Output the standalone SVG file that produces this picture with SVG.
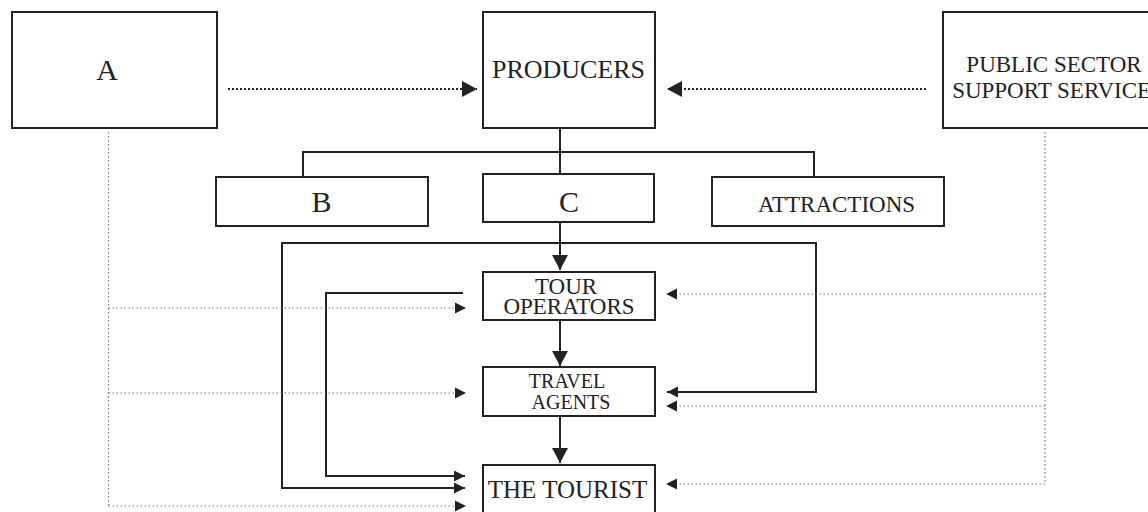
<svg xmlns="http://www.w3.org/2000/svg" width="1148" height="512" viewBox="0 0 1148 512">
<style>
.box{fill:#fff;stroke:#222;stroke-width:2}
.t{font-family:"Liberation Serif","Times New Roman",serif;fill:#222;text-anchor:middle}
.solid{fill:none;stroke:#222;stroke-width:2}
.dotd{fill:none;stroke:#222;stroke-width:2;stroke-dasharray:2 2}
.dotl{fill:none;stroke:#777;stroke-width:1.2;stroke-dasharray:1.5 2.5}
</style>
<defs>
<marker id="big" markerUnits="userSpaceOnUse" markerWidth="15" markerHeight="16" refX="15" refY="8" orient="auto" viewBox="0 0 15 16">
<path d="M0,0 L15,8 L0,16 z" fill="#222"/>
</marker>
<marker id="small" markerUnits="userSpaceOnUse" markerWidth="11" markerHeight="11" refX="11" refY="5.5" orient="auto" viewBox="0 0 11 11">
<path d="M0,0 L11,5.5 L0,11 z" fill="#222"/>
</marker>
</defs>
<g id="connectors">
<path class="dotd" d="M228,89 H477" marker-end="url(#big)"/>
<path class="dotd" d="M926,89 H667" marker-end="url(#big)"/>
<path class="solid" d="M560,128 V174"/>
<path class="solid" d="M303,177 V152 H814 V177"/>
<path class="solid" d="M560,222 V270" marker-end="url(#big)"/>
<path class="solid" d="M560,320 V366" marker-end="url(#big)"/>
<path class="solid" d="M560,416 V463" marker-end="url(#big)"/>
<path class="solid" d="M560,243 H282 V488 H465" marker-end="url(#small)"/>
<path class="solid" d="M560,243 H816 V392 H667" marker-end="url(#small)"/>
<path class="solid" d="M463,293 H326 V476 H465" marker-end="url(#small)"/>
<path class="dotl" d="M108.5,132 V506"/>
<path class="dotl" d="M108.5,308 H459"/>
<path class="dotl" d="M108.5,393 H459"/>
<path class="dotl" d="M108.5,506 H459"/>
<polygon points="455,302.5 466,308 455,313.5" fill="#222"/>
<polygon points="455,387.5 466,393 455,398.5" fill="#222"/>
<polygon points="455,500.5 466,506 455,511.5" fill="#222"/>
<path class="dotl" d="M1045,132 V484"/>
<path class="dotl" d="M1045,294 H673"/>
<path class="dotl" d="M1045,406 H673"/>
<path class="dotl" d="M1045,484 H673"/>
<polygon points="677,288.5 666,294 677,299.5" fill="#222"/>
<polygon points="677,400.5 666,406 677,411.5" fill="#222"/>
<polygon points="677,478.5 666,484 677,489.5" fill="#222"/>
</g>
<g id="node-a"><rect class="box" x="12" y="12" width="205" height="116"/><text class="t" x="107" y="80" font-size="30">A</text></g>
<g id="node-producers"><rect class="box" x="483" y="12" width="172" height="116"/><text class="t" x="568.5" y="78" font-size="26">PRODUCERS</text></g>
<g id="node-public"><rect class="box" x="943" y="12" width="230" height="116"/><text class="t" x="1054" y="72" font-size="23">PUBLIC SECTOR</text><text class="t" x="1058" y="98" font-size="23">SUPPORT SERVICES</text></g>
<g id="node-b"><rect class="box" x="216" y="177" width="212" height="49"/><text class="t" x="321.5" y="212" font-size="30">B</text></g>
<g id="node-c"><rect class="box" x="483" y="174" width="171" height="48"/><text class="t" x="569" y="212" font-size="30">C</text></g>
<g id="node-attractions"><rect class="box" x="712" y="177" width="232" height="49"/><text class="t" x="836.5" y="212" font-size="23">ATTRACTIONS</text></g>
<g id="node-tour"><rect class="box" x="483" y="272" width="172" height="48"/><text class="t" x="566" y="294" font-size="23">TOUR</text><text class="t" x="569" y="314" font-size="23">OPERATORS</text></g>
<g id="node-travel"><rect class="box" x="483" y="367" width="172" height="49"/><text class="t" x="567" y="388" font-size="20">TRAVEL</text><text class="t" x="571" y="409" font-size="20">AGENTS</text></g>
<g id="node-tourist"><rect class="box" x="483" y="465" width="172" height="60"/><text class="t" x="567.5" y="498" font-size="25">THE TOURIST</text></g>
</svg>
